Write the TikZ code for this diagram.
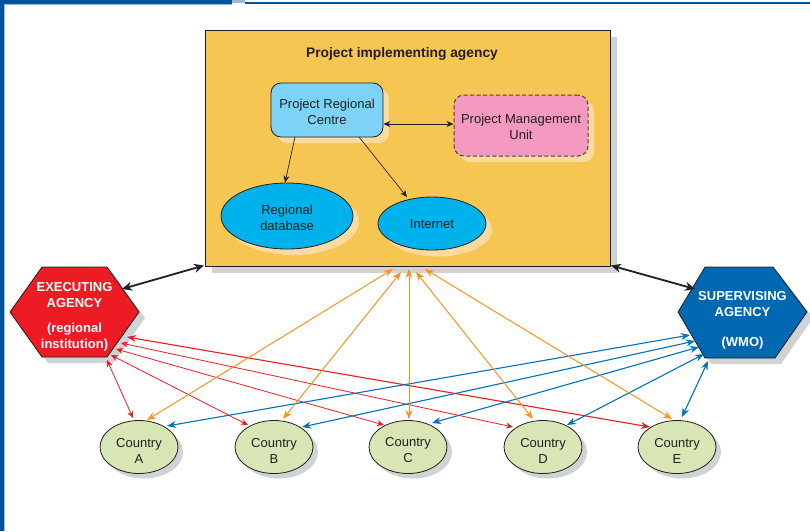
\documentclass[tikz,border=0pt]{standalone}
\usepackage{fontspec}
\setmainfont{Liberation Sans}
\usetikzlibrary{arrows.meta,shapes.geometric}
\definecolor{frameblue}{HTML}{00529B}
\definecolor{paleblue}{HTML}{9DB9D6}
\definecolor{boxyellow}{HTML}{F5C651}
\definecolor{shadowgrey}{HTML}{D1D2D4}
\definecolor{shadoworange}{HTML}{FDDBA0}
\definecolor{prcblue}{HTML}{7DD3F7}
\definecolor{pmupink}{HTML}{F49AC1}
\definecolor{cyanfill}{HTML}{00B2EC}
\definecolor{countryfill}{HTML}{D8E6B5}
\definecolor{execred}{HTML}{ED1C24}
\definecolor{supblue}{HTML}{0067B1}
\definecolor{arrorange}{HTML}{F7931E}
\definecolor{arrblue}{HTML}{0072BC}
\definecolor{arrred}{HTML}{ED1C24}
\definecolor{textgrey}{HTML}{231F20}
\begin{document}
\begin{tikzpicture}[x=1pt,y=-1pt,
  every node/.style={text=textgrey, font=\fontsize{13}{16}\selectfont, align=center},
  country/.style={ellipse, draw=textgrey, line width=0.8pt, fill=countryfill, minimum width=78pt, minimum height=53pt, inner sep=0pt},
  blob/.style={ellipse, draw=textgrey, line width=0.8pt, fill=cyanfill, inner sep=0pt},
  hextext/.style={text=white, font=\bfseries\fontsize{13}{16}\selectfont, inner sep=0pt},
  blackarr/.style={{Stealth[length=10pt,width=9pt]}-{Stealth[length=10pt,width=9pt]}, line width=1.8pt, draw=textgrey},
  thinarr/.style={{Stealth[length=7pt,width=6pt]}-{Stealth[length=7pt,width=6pt]}, line width=0.7pt, draw=textgrey},
  orarr/.style={{Stealth[length=9pt,width=7pt]}-{Stealth[length=9pt,width=7pt]}, line width=1pt, draw=arrorange},
  redarr/.style={{Stealth[length=7pt,width=6pt]}-{Stealth[length=7pt,width=6pt]}, line width=0.8pt, draw=arrred},
  bluarr/.style={{Stealth[length=9pt,width=7pt]}-{Stealth[length=9pt,width=7pt]}, line width=1.1pt, draw=arrblue}
]
\useasboundingbox (0,0) rectangle (810,531);
% frame
\fill[white] (0,0) rectangle (810,531);
\fill[frameblue] (0,0) rectangle (4,531);
\fill[paleblue] (4,4) rectangle (5,531);
\fill[frameblue] (0,0) rectangle (232,4);
\fill[paleblue] (232,0) rectangle (245,3);
\fill[frameblue] (245,2) rectangle (810,4);
\fill[paleblue] (5,4) rectangle (232,5);

% yellow box
\fill[shadowgrey] (212,37) rectangle (617,273);
\node[draw=textgrey, line width=1pt, fill=boxyellow, minimum width=405pt, minimum height=236pt, inner sep=0pt] (pia) at (407.5,148) {};
\node[font=\bfseries\fontsize{13.8}{16}\selectfont] (title) at (402,54) {Project implementing agency};

% inner nodes
\fill[shadoworange, rounded corners=10pt] (277,89) rectangle (389,143);
\node[draw=textgrey, line width=0.8pt, fill=prcblue, rounded corners=10pt, minimum width=112pt, minimum height=54pt, inner sep=0pt] (prc) at (327,110) {};
\node (prct) at (327,112) {Project Regional\\Centre};
\fill[shadoworange, rounded corners=10pt] (460,101) rectangle (594,162);
\node[draw=textgrey!85, dash pattern=on 4pt off 2.5pt, line width=1pt, fill=pmupink, rounded corners=10pt, minimum width=134pt, minimum height=61pt, inner sep=0pt] (pmu) at (521,125.5) {};
\node (pmut) at (521,126.5) {Project Management\\Unit};
\fill[shadoworange] (293,222) ellipse [x radius=66, y radius=33];
\node[blob, minimum width=132pt, minimum height=66pt] (db) at (287,216) {};
\node (dbt) at (287,218) {Regional\\database};
\fill[shadoworange] (438,230) ellipse [x radius=54, y radius=26.5];
\node[blob, minimum width=108pt, minimum height=53pt] (net) at (432,223.5) {};
\node (nett) at (432,224) {Internet};

\draw[thinarr] (prc.east |- 0,124) coordinate (prcE) -- (pmu.west |- 0,124);
\draw[-{Stealth[length=7pt,width=6pt]}, line width=0.7pt, draw=textgrey] (295,137) coordinate (prcS1) -- (db.north -| 285,0);
\draw[-{Stealth[length=7pt,width=6pt]}, line width=0.7pt, draw=textgrey] (359,137) coordinate (prcS2) -- (407,197) coordinate (netN);

% executing agency hexagon
\fill[shadowgrey] (16,318) -- (48,273) -- (113,273) -- (145,318) -- (113,363) -- (48,363) -- cycle;
\filldraw[fill=execred, draw=textgrey, line width=0.8pt] (10,312) -- (42,267) -- (107,267) -- (139,312) -- (107,357) -- (42,357) -- cycle;
\node[hextext] (exec) at (74.5,295) {EXECUTING\\AGENCY};
\node[hextext] (execsub) at (74.5,337) {(regional\\institution)};

% supervising agency hexagon
\fill[shadowgrey] (684,318) -- (711,273) -- (779,273) -- (813,318) -- (781,364) -- (711,364) -- cycle;
\filldraw[fill=supblue, draw=textgrey, line width=0.8pt] (678,312) -- (705,267) -- (773,267) -- (807,312) -- (775,358) -- (705,358) -- cycle;
\node[hextext] (sup) at (742.5,304.5) {SUPERVISING\\AGENCY};
\node[hextext] (supsub) at (742.5,343) {(WMO)};

% countries
\foreach \n/\x in {A/139,B/274,C/408,D/543,E/677}{
  \fill[shadowgrey] (\x+5,452) ellipse [x radius=39, y radius=26.5];
  \node[country] (c\n) at (\x,447) {};
  \node (c\n t) at (\x,450.5) {Country\\\n};
}

% black arrows
\coordinate (exB) at (122,289);
\coordinate (piaL) at (204,265.5);
\coordinate (piaR) at (611,265.5);
\coordinate (supB) at (695,289);
\draw[blackarr] (exB) -- (piaL);
\draw[blackarr] (piaR) -- (supB);

% red arrows exec <-> countries
\coordinate (eA) at (107,360);
\coordinate (eB) at (111,355);
\coordinate (eC) at (116,349);
\coordinate (eD) at (121,343);
\coordinate (eE) at (127,337);
\coordinate (rA) at (133,418);
\coordinate (rB) at (248,425);
\coordinate (rC) at (384,425);
\coordinate (rD) at (513,427);
\coordinate (rE) at (650,427);
\draw[redarr] (eA) -- (rA);
\draw[redarr] (eB) -- (rB);
\draw[redarr] (eC) -- (rC);
\draw[redarr] (eD) -- (rD);
\draw[redarr, line width=1.1pt, {Stealth[length=9pt,width=7pt]}-{Stealth[length=9pt,width=7pt]}] (eE) -- (rE);

% blue arrows sup <-> countries
\coordinate (sA) at (690,335);
\coordinate (sB) at (695,341);
\coordinate (sC) at (699,347);
\coordinate (sD) at (704,354);
\coordinate (sE) at (708,361);
\coordinate (bA) at (167,426);
\coordinate (bB) at (302,427);
\coordinate (bC) at (432,423);
\coordinate (bD) at (567,425);
\coordinate (bE) at (682,417);
\draw[bluarr] (sA) -- (bA);
\draw[bluarr] (sB) -- (bB);
\draw[bluarr] (sC) -- (bC);
\draw[bluarr] (sD) -- (bD);
\draw[bluarr] (sE) -- (bE);

% orange arrows pia <-> countries
\coordinate (pA) at (393,269);
\coordinate (pB) at (401,272);
\coordinate (pC) at (409,269);
\coordinate (pD) at (416,272);
\coordinate (pE) at (425,269);
\coordinate (oA) at (147,420);
\coordinate (oB) at (283,419);
\coordinate (oC) at (409,419);
\coordinate (oD) at (533,419);
\coordinate (oE) at (672,419);
\draw[orarr] (pA) -- (oA);
\draw[orarr] (pB) -- (oB);
\draw[orarr] (pC) -- (oC);
\draw[orarr] (pD) -- (oD);
\draw[orarr] (pE) -- (oE);
\end{tikzpicture}
\end{document}
